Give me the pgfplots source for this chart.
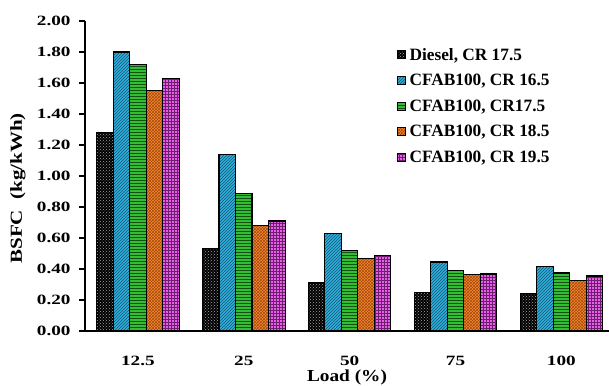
\documentclass[border=0pt]{standalone}
\usepackage{fontspec}
\setmainfont{Liberation Serif}
\newfontfamily\tickfont{Liberation Serif}[FakeStretch=1.35]
\newfontfamily\ylabfont{Liberation Serif}[FakeStretch=1.25]
\newfontfamily\xlabfont{Liberation Serif}[FakeStretch=1.15]
\usepackage{pgfplots}
\pgfplotsset{compat=1.18}
\usetikzlibrary{patterns}
\definecolor{cblue}{RGB}{45,175,220}
\definecolor{cgreen}{RGB}{50,190,50}
\definecolor{corange}{RGB}{250,135,40}
\definecolor{cmag}{RGB}{232,95,232}
\definecolor{dkblue}{RGB}{25,85,115}
\definecolor{dkgreen}{RGB}{20,80,20}
\definecolor{dkorange}{RGB}{160,75,20}
\definecolor{dkmag}{RGB}{110,30,110}
\begin{document}
\begin{tikzpicture}
\useasboundingbox (-85pt,-54pt) rectangle (524pt,331pt);
\begin{axis}[
  at={(0pt,0pt)}, anchor=south west,
  width=524pt, height=310pt, scale only axis,
  xmin=-0.5, xmax=4.45,
  ymin=0, ymax=2,
  axis x line=bottom, axis y line=left,
  axis line style={-, line width=1.5pt},
  ybar=0pt, bar width=0.156,
  xtick={0,1,2,3,4},
  xticklabels={12.5,25,50,75,100},
  minor xtick={-0.5,0.5,1.5,2.5,3.5},
  xtick style={draw=none},
  minor x tick style={black, line width=1.3pt},
  minor tick length=7pt,
  ytick={0,0.2,...,2.01},
  ytick style={black, line width=1.3pt},
  major tick length=6pt,
  tick align=outside,
  yticklabel={\pgfmathprintnumber[fixed,fixed zerofill,precision=2]{\tick}},
  ticklabel style={font=\tickfont\bfseries\fontsize{14.2}{15}\selectfont},
  /pgf/number format/assume math mode=true,
  xticklabel style={anchor=center, yshift=-24pt},
  yticklabel style={xshift=-5pt},
  xlabel={\xlabfont\bfseries\fontsize{16.8}{18}\selectfont Load (\%)},
  ylabel={\ylabfont\bfseries\fontsize{16.8}{18}\selectfont BSFC\ \ (kg/kWh)},
  xlabel style={at={(axis description cs:0.5,0)}, anchor=center, yshift=-46pt},
  ylabel style={at={(axis description cs:-0.128,0.46)}, anchor=center},
  legend style={at={(0.595,0.92)}, anchor=north west, draw=none, fill=none,
    font=\bfseries\fontsize{17.3}{19}\selectfont, row sep=8.5pt,
    legend cell align=left, inner sep=0pt,
    nodes={inner xsep=4pt}},
  legend image code/.code={\draw[#1, line width=0.6pt] (0pt,-4pt) rectangle (8pt,4pt);},
  every axis plot/.append style={draw=black, line width=1.1pt},
  clip=false,
]
\addplot[fill=black, postaction={pattern=crosshatch dots, pattern color=gray!70}] coordinates {(0,1.28) (1,0.53) (2,0.31) (3,0.25) (4,0.24)};
\addplot[fill=cblue, postaction={pattern=north east lines, pattern color=dkblue}] coordinates {(0,1.80) (1,1.14) (2,0.63) (3,0.445) (4,0.417)};
\addplot[fill=cgreen, postaction={pattern=horizontal lines, pattern color=dkgreen}] coordinates {(0,1.72) (1,0.886) (2,0.52) (3,0.39) (4,0.374)};
\addplot[fill=corange, postaction={pattern=crosshatch, pattern color=dkorange}] coordinates {(0,1.55) (1,0.68) (2,0.47) (3,0.363) (4,0.327)};
\addplot[fill=cmag, postaction={pattern=grid, pattern color=dkmag}] coordinates {(0,1.63) (1,0.71) (2,0.486) (3,0.368) (4,0.355)};
\legend{Diesel{,} CR 17.5, CFAB100{,} CR 16.5, CFAB100{,} CR17.5, CFAB100{,} CR 18.5, CFAB100{,} CR 19.5}
\end{axis}
\end{tikzpicture}
\end{document}
